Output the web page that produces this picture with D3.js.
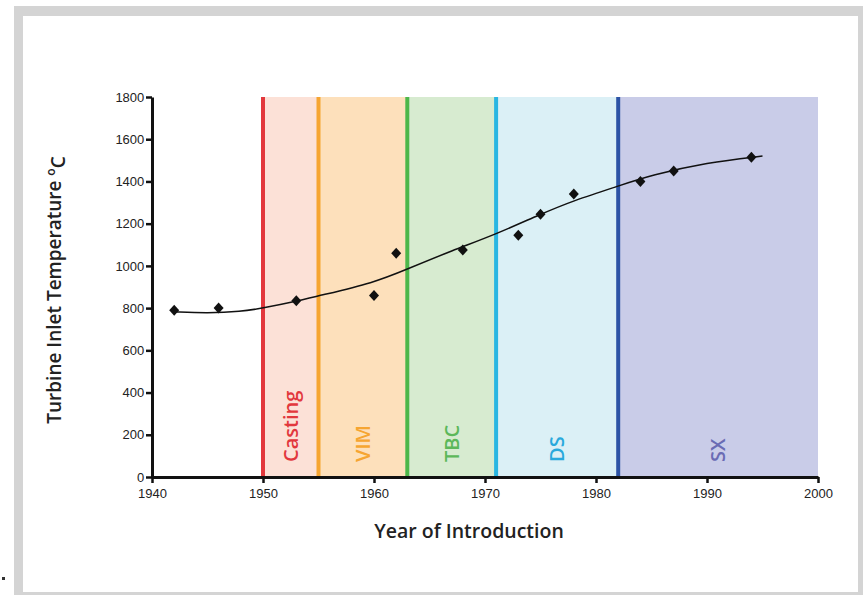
<!DOCTYPE html>
<html>
<head>
<meta charset="utf-8">
<script src="https://cdn.jsdelivr.net/npm/d3@7"></script>
<style>
  body { margin: 0; background: #fff; }
  svg { display: block; }
</style>
</head>
<body>
<svg width="863" height="595"></svg>
<script>
// measured points
var years = [1942, 1946, 1953, 1960, 1962, 1968, 1973, 1975, 1978, 1984, 1987, 1994];
var temps = [790, 800, 835, 860, 1060, 1075, 1145, 1245, 1340, 1400, 1450, 1515];

// trend line
var fitYears = [1942, 1945, 1948, 1950, 1953, 1955, 1960, 1963, 1967, 1971, 1975, 1978, 1982, 1985, 1990, 1995];
var fitTemps = [782, 776, 783, 800, 832, 858, 920, 985, 1072, 1150, 1245, 1310, 1378, 1430, 1490, 1520];

// technology eras
var eraNames = ["Casting", "VIM", "TBC", "DS", "SX"];
var eraStart = [1950, 1955, 1963, 1971, 1982];
var eraEnd = [1955, 1963, 1971, 1982, 2000];
var eraFill = ["#fce1d7", "#fde0bb", "#d7ebd0", "#dbf0f6", "#c9cce8"];
var eraLine = ["#e2383d", "#f6a531", "#4cb74a", "#29b6e2", "#2c53a5"];
var eraText = ["#e2383d", "#f6a531", "#5cb85a", "#29a9dc", "#6a6bb4"];

var xTicks = [1940, 1950, 1960, 1970, 1980, 1990, 2000];
var yTicks = [0, 200, 400, 600, 800, 1000, 1200, 1400, 1600, 1800];

var svg = d3.select("svg");

// outer frame
svg.append("rect").attr("x", 14).attr("y", 6).attr("width", 849).attr("height", 589).attr("fill", "#d4d4d4");
svg.append("rect").attr("x", 23).attr("y", 16).attr("width", 835).attr("height", 576).attr("fill", "#fff");
svg.append("rect").attr("x", 2).attr("y", 577).attr("width", 3).attr("height", 3).attr("fill", "#333");

var margin = {left: 152, right: 45, top: 97, bottom: 118};
var x = d3.scaleLinear().domain([1940, 2000]).range([margin.left, 863 - margin.right]);
var y = d3.scaleLinear().domain([0, 1800]).range([595 - margin.bottom, margin.top]);

var eras = eraNames.map(function(n, i) {
  return {name: n, s: eraStart[i], e: eraEnd[i], fill: eraFill[i], line: eraLine[i], text: eraText[i]};
});

svg.selectAll(".era")
  .data(eras)
  .enter().append("rect")
  .attr("class", "era")
  .attr("x", function(d) { return x(d.s); })
  .attr("y", y(1800))
  .attr("width", function(d) { return x(d.e) - x(d.s); })
  .attr("height", y(0) - y(1800))
  .attr("fill", function(d) { return d.fill; });

svg.selectAll(".eraLine")
  .data(eras)
  .enter().append("line")
  .attr("class", "eraLine")
  .attr("x1", function(d) { return x(d.s); })
  .attr("x2", function(d) { return x(d.s); })
  .attr("y1", y(1800))
  .attr("y2", y(0))
  .attr("stroke", function(d) { return d.line; })
  .attr("stroke-width", 4);

svg.selectAll(".eraLabel")
  .data(eras)
  .enter().append("text")
  .attr("class", "eraLabel")
  .attr("transform", function(d) {
    return "translate(" + (x((d.s + d.e) / 2) + 7) + "," + (y(0) - 15) + ") rotate(-90)";
  })
  .attr("fill", function(d) { return d.text; })
  .style("font-family", "'Open Sans', sans-serif")
  .style("font-weight", 600)
  .style("font-size", "20px")
  .text(function(d) { return d.name; });

// trend line
var fit = fitYears.map(function(v, i) { return [v, fitTemps[i]]; });
svg.append("path")
  .datum(fit)
  .attr("fill", "none")
  .attr("stroke", "#111")
  .attr("stroke-width", 1.5)
  .attr("d", d3.line()
    .x(function(d) { return x(d[0]); })
    .y(function(d) { return y(d[1]); })
    .curve(d3.curveBasis));

// points
var pts = years.map(function(v, i) { return [v, temps[i]]; });
svg.selectAll(".pt")
  .data(pts)
  .enter().append("path")
  .attr("class", "pt")
  .attr("transform", function(d) { return "translate(" + x(d[0]) + "," + y(d[1]) + ")"; })
  .attr("d", "M0,-5.5L5,0L0,5.5L-5,0Z")
  .attr("fill", "#111");

// axes
var xAxis = svg.append("g")
  .attr("transform", "translate(0," + y(0) + ")")
  .call(d3.axisBottom(x).tickValues(xTicks).tickFormat(d3.format("d")).tickSize(6).tickSizeOuter(0));
var yAxis = svg.append("g")
  .attr("transform", "translate(" + x(1940) + ",0)")
  .call(d3.axisLeft(y).tickValues(yTicks).tickFormat(d3.format("d")).tickSize(6).tickSizeOuter(0));

[xAxis, yAxis].forEach(function(g) {
  g.select(".domain").attr("stroke", "#111").attr("stroke-width", 3);
  g.selectAll(".tick line").attr("stroke", "#111").attr("stroke-width", 2.5);
  g.selectAll(".tick text")
    .attr("fill", "#222")
    .style("font-family", "'Liberation Sans', Arial, sans-serif")
    .style("font-size", "13px");
});
xAxis.selectAll(".tick text").attr("dy", "0.9em");
yAxis.selectAll(".tick text").attr("dx", "0.1em");

// axis titles
svg.append("text")
  .attr("x", 469)
  .attr("y", 538)
  .attr("text-anchor", "middle")
  .attr("fill", "#222")
  .style("font-family", "'Open Sans', sans-serif")
  .style("font-weight", 600)
  .style("font-size", "19.5px")
  .text("Year of Introduction");

var yt = svg.append("text")
  .attr("transform", "translate(61,290) rotate(-90)")
  .attr("text-anchor", "middle")
  .attr("fill", "#222")
  .style("font-family", "'Open Sans', sans-serif")
  .style("font-weight", 600)
  .style("font-size", "19px");
yt.append("tspan").text("Turbine Inlet Temperature ");
yt.append("tspan").attr("dy", "-0.5em").style("font-size", "12px").text("o");
yt.append("tspan").attr("dy", "0.5em").text("C");
</script>
</body>
</html>
